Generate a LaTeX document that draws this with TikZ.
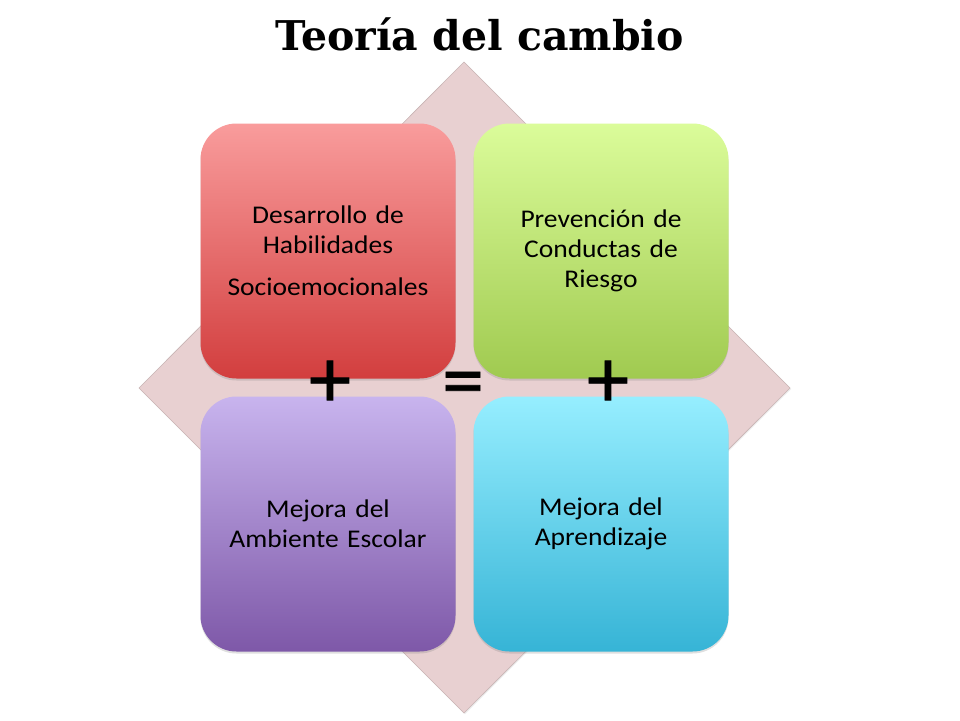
\documentclass[tikz,border=0pt]{standalone}
\usepackage{fontspec}
\newfontfamily\carlito[FakeStretch=1.08]{Carlito}
\newfontfamily\signfont[FakeBold=1]{Carlito}
\newfontfamily\titlefont{DejaVu Serif}
\usetikzlibrary{shadows}
\definecolor{dia}{HTML}{E8D0D1}
\definecolor{diaedge}{HTML}{C8B4B4}
\definecolor{tlA}{HTML}{F99C9C}
\definecolor{tlB}{HTML}{D23E3E}
\definecolor{trA}{HTML}{DBFC9A}
\definecolor{trB}{HTML}{A0CA50}
\definecolor{blA}{HTML}{C8B4EE}
\definecolor{blB}{HTML}{7E58A8}
\definecolor{brA}{HTML}{96EEFF}
\definecolor{brB}{HTML}{36B4D6}
\tikzset{
  tile/.style={minimum width=255pt, minimum height=255pt, rounded corners=36pt,
    inner sep=0pt, align=center, text width=240pt,
    font=\carlito\fontsize{25.5}{30}\selectfont, text=black,
    drop shadow={opacity=0.25, shadow xshift=0pt, shadow yshift=-2pt}},
  sign/.style={font=\signfont\fontsize{84}{88}\selectfont, inner sep=0pt}
}
\begin{document}
\begin{tikzpicture}[x=1pt,y=-1pt]
\useasboundingbox (0,0) rectangle (960,720);
\fill[white] (0,0) rectangle (960,720);
% background diamond
\draw[fill=dia, draw=diaedge, line width=0.6pt,
  drop shadow={opacity=0.15, shadow xshift=1pt, shadow yshift=-1pt}]
  (464,62) -- (790,388) -- (464,713) -- (139,388) -- cycle;
% title
\node[anchor=base, font=\titlefont\bfseries\fontsize{41}{46}\selectfont, inner sep=0pt]
  (title) at (479.5,50) {Teoría del cambio};
% tiles
\node[tile, top color=tlA, bottom color=tlB] (tl) at (328,251)
  {Desarrollo de\\Habilidades\\[12pt]Socioemocionales};
\node[tile, top color=trA, bottom color=trB] (tr) at (601,251)
  {Prevención de\\Conductas de\\Riesgo};
\node[tile, top color=blA, bottom color=blB] (bl) at (328,524)
  {Mejora del\\Ambiente Escolar};
\node[tile, top color=brA, bottom color=brB] (br) at (601,524)
  {Mejora del\\Aprendizaje};
% signs
\node[sign] (plusL) at (330,384) {+};
\node[sign] (eq) at (463,390) {=};
\node[sign] (plusR) at (608,384) {+};
\end{tikzpicture}
\end{document}
